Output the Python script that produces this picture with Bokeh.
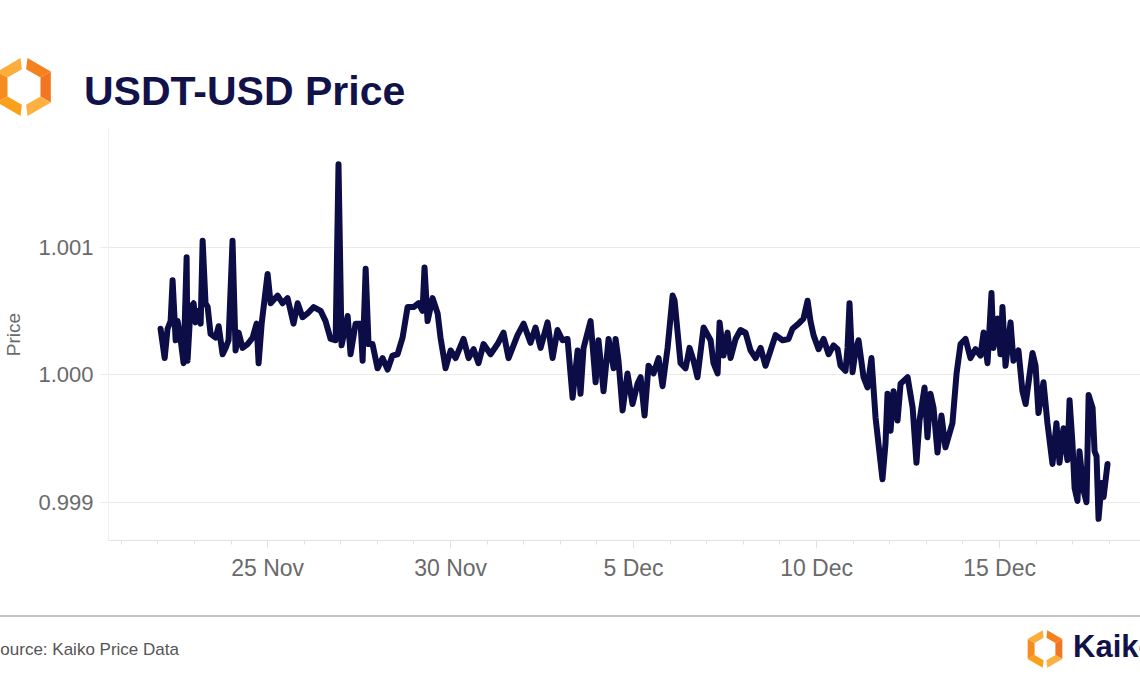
import numpy as np
import pandas as pd
from bokeh.plotting import figure
from bokeh.layouts import column
from bokeh.models import Range1d, FixedTicker, PrintfTickFormatter, Div
from bokeh.embed import file_html
from bokeh.resources import INLINE

# ---------------- data ----------------
start = pd.Timestamp("2022-11-22 00:00")

# hours since start
hours = [
    1.8, 4.5, 6.4, 8.4, 9.7, 11.7, 13.0, 15.0, 16.9, 18.9,
    19.5, 21.5, 23.5, 24.8, 26.7, 28.1, 29.4, 31.3, 32.7, 34.6,
    37.9, 39.9, 42.5, 44.5, 46.4, 49.0, 51.0, 53.0, 55.6, 58.9,
    62.2, 64.8, 66.1, 68.1, 72.0, 74.0, 78.6, 81.8, 85.1, 89.0,
    91.7, 94.9, 98.2, 102.2, 106.8, 110.0, 113.3, 116.6, 118.5, 120.5,
    124.5, 126.4, 129.7, 133.0, 134.3, 136.3, 138.2, 140.8, 144.1, 147.4,
    150.7, 153.9, 157.2, 160.5, 163.8, 167.7, 171.0, 173.6, 174.9, 176.9,
    180.2, 183.5, 185.4, 188.7, 192.0, 195.3, 200.5, 203.8, 207.1, 210.3,
    213.6, 218.2, 222.8,
    226.7, 230.0, 235.9, 239.9, 244.4, 247.7, 251.0, 255.6, 258.9, 262.1,
    265.4, 268.7, 272.0, 275.3, 277.2, 279.2, 283.8, 287.1, 289.0, 292.3,
    295.6, 298.9, 300.2, 302.1, 304.8, 308.0, 311.3, 314.6, 316.6, 319.2,
    321.8, 325.1, 328.4, 331.0, 334.3, 337.6, 338.9, 342.8, 346.1, 348.7,
    351.3, 353.9, 357.9, 362.5, 364.4, 367.1, 368.4, 371.0, 373.6, 375.6,
    378.9, 382.1, 385.4, 388.7, 392.0, 395.3, 398.5, 401.8, 405.1, 409.7,
    413.6, 416.2, 420.2, 423.4, 426.1, 428.0, 430.0, 433.3, 436.6, 439.9,
    443.1, 445.8, 447.7, 451.0, 452.3, 453.6, 455.6, 457.6, 459.5, 462.8,
    465.4, 468.0, 470.7,
    475.2, 477.2, 478.5, 480.5, 482.5, 485.1, 487.1, 491.7, 495.0, 497.5,
    499.5, 502.8, 504.7, 506.7, 508.7, 511.3, 513.9, 516.5, 521.1, 523.8,
    526.4, 529.7, 532.9, 536.2, 539.5, 541.5, 544.1, 546.7, 548.0, 550.6,
    552.6, 553.9, 555.9, 559.2, 561.1, 564.4, 567.0, 569.1, 573.6, 575.6,
    577.5, 580.8, 583.4, 586.7, 589.3, 591.3, 593.9, 596.5, 597.9, 599.8,
    601.2, 603.1, 604.4, 607.1, 609.0, 610.4, 613.0, 614.3, 615.6, 616.9,
    618.9, 620.2, 622.8,
]

price = [
    1.00036, 1.00013, 1.00036, 1.00042, 1.00074, 1.00027, 1.00042, 1.00027, 1.00009, 1.00092,
    1.00011, 1.00053, 1.00056, 1.00041, 1.00050, 1.00040, 1.00105, 1.00056, 1.00053, 1.00032,
    1.00029, 1.00038, 1.00016, 1.00021, 1.00027, 1.00105, 1.00019, 1.00033, 1.00021, 1.00024,
    1.00029, 1.00040, 1.00009, 1.00040, 1.00079, 1.00056, 1.00062, 1.00056, 1.00060, 1.00040,
    1.00056, 1.00045, 1.00048, 1.00053, 1.00050, 1.00042, 1.00028, 1.00027, 1.00165, 1.00023,
    1.00046, 1.00016, 1.00040, 1.00040, 1.00011, 1.00083, 1.00024, 1.00024, 1.00005, 1.00013,
    1.00004, 1.00015, 1.00016, 1.00029, 1.00053, 1.00053, 1.00056, 1.00050, 1.00084, 1.00042,
    1.00060, 1.00048, 1.00029, 1.00005, 1.00019, 1.00013, 1.00028, 1.00013, 1.00020, 1.00009,
    1.00024, 1.00016, 1.00024,
    1.00033, 1.00013, 1.00031, 1.00040, 1.00025, 1.00037, 1.00021, 1.00041, 1.00013, 1.00035,
    1.00027, 1.00028, 0.99982, 1.00019, 0.99985, 1.00021, 1.00042, 0.99994, 1.00027, 0.99987,
    1.00028, 1.00005, 1.00028, 1.00011, 0.99972, 1.00001, 0.99977, 0.99993, 0.99998, 0.99968,
    1.00007, 1.00001, 1.00013, 0.99991, 1.00021, 1.00062, 1.00058, 1.00009, 1.00005, 1.00021,
    1.00011, 0.99998, 1.00037, 1.00027, 1.00009, 1.00001, 1.00041, 1.00015, 1.00033, 1.00013,
    1.00028, 1.00035, 1.00033, 1.00019, 1.00013, 1.00021, 1.00007, 1.00019, 1.00031, 1.00027,
    1.00028, 1.00036, 1.00040, 1.00044, 1.00058, 1.00042, 1.00031, 1.00020, 1.00028, 1.00016,
    1.00023, 1.00020, 1.00007, 1.00003, 1.00021, 1.00056, 1.00002, 1.00019, 1.00027, 0.99998,
    0.99990, 1.00013, 0.99966,
    0.99918, 0.99946, 0.99985, 0.99956, 0.99987, 0.99964, 0.99993, 0.99998, 0.99974, 0.99931,
    0.99964, 0.99990, 0.99951, 0.99985, 0.99974, 0.99939, 0.99968, 0.99943, 0.99962, 1.00001,
    1.00024, 1.00028, 1.00013, 1.00020, 1.00015, 1.00033, 1.00009, 1.00064, 1.00021, 1.00044,
    1.00016, 1.00053, 1.00007, 1.00041, 1.00011, 1.00019, 0.99987, 0.99977, 1.00017, 1.00007,
    0.99970, 0.99994, 0.99962, 0.99930, 0.99962, 0.99931, 0.99958, 0.99933, 0.99980, 0.99946,
    0.99911, 0.99901, 0.99940, 0.99909, 0.99900, 0.99984, 0.99974, 0.99940, 0.99936, 0.99887,
    0.99915, 0.99904, 0.99930,
]

y_ticks = [0.999, 1.000, 1.001]
x_tick_dates = ["2022-11-25", "2022-11-30", "2022-12-05", "2022-12-10", "2022-12-15"]
x_tick_labels = ["25 Nov", "30 Nov", "5 Dec", "10 Dec", "15 Dec"]
title_text = "USDT-USD Price"
y_label = "Price"
source_text = "Source: Kaiko Price Data"
brand_text = "Kaiko"

# ---------------- styles ----------------
FONT = "Liberation Sans"
NAVY = "#12124a"
LINE = "#0c0c46"
GRAY_TXT = "#6a6a6a"
GRID = "#ebebeb"
W = 1140

times = start + pd.to_timedelta(hours, unit="h")


def hex_logo_svg(cx, cy, R, r, gap):
    """Two-piece hexagon ring logo (pointy top) as SVG polygons, y down."""
    angs = np.radians([90, 30, -30, -90, -150, 150])
    ox = cx + R * np.cos(angs); oy = cy - R * np.sin(angs)
    ix = cx + r * np.cos(angs); iy = cy - r * np.sin(angs)
    cols = ["#f5821f", "#f37421", "#fbb040", "#f9a11b", "#f68b1f", "#fbae3c"]
    parts = []
    for i in range(6):
        j = (i + 1) % 6
        t0, t1 = 0.0, 1.0
        if i in (0, 3):
            t0 = gap
        if i in (2, 5):
            t1 = 1 - gap
        pts = [(ox[i] + (ox[j] - ox[i]) * t0, oy[i] + (oy[j] - oy[i]) * t0),
               (ox[i] + (ox[j] - ox[i]) * t1, oy[i] + (oy[j] - oy[i]) * t1),
               (ix[i] + (ix[j] - ix[i]) * t1, iy[i] + (iy[j] - iy[i]) * t1),
               (ix[i] + (ix[j] - ix[i]) * t0, iy[i] + (iy[j] - iy[i]) * t0)]
        s = " ".join(f"{x:.1f},{y:.1f}" for x, y in pts)
        parts.append(f'<polygon points="{s}" fill="{cols[i]}"/>')
    return "".join(parts)


def text_svg(x, y, txt, size, color, bold=False):
    weight = "bold" if bold else "normal"
    return (f'<text x="{x}" y="{y}" font-family="{FONT}" font-size="{size}px" '
            f'font-weight="{weight}" fill="{color}">{txt}</text>')


# ---------------- header ----------------
HEAD_H = 125
head_svg = (f'<svg xmlns="http://www.w3.org/2000/svg" width="{W}" height="{HEAD_H}" '
            f'style="display:block;background:white">'
            + hex_logo_svg(24, 87, 31, 19, 0.13)
            + text_svg(84, 105, title_text, 41, NAVY, bold=True)
            + '</svg>')
head = Div(text=head_svg, width=W, height=HEAD_H, margin=0)

# ---------------- main chart ----------------
p = figure(width=W, height=485, x_axis_type="datetime", output_backend="svg",
           toolbar_location=None,
           x_range=Range1d(pd.Timestamp("2022-11-20 15:40"), pd.Timestamp("2022-12-18 20:25")),
           y_range=Range1d(0.99870, 1.00193),
           min_border_left=108, min_border_right=0, min_border_top=3, min_border_bottom=70,
           outline_line_color=None, background_fill_color="white", border_fill_color="white",
           margin=0)

p.line(times, price, line_width=6, line_color=LINE, line_join="round", line_cap="round")

# x axis
tick_ms = [float(pd.Timestamp(d).value // 10**6) for d in x_tick_dates]
minor_ms = [float(t.value // 10**6) for t in pd.date_range("2022-11-21", "2022-12-18", freq="D")]
p.xaxis.ticker = FixedTicker(ticks=tick_ms, minor_ticks=minor_ms)
p.xaxis.major_label_overrides = dict(zip(tick_ms, x_tick_labels))
p.xaxis.axis_line_color = "#e2e2e2"
p.xaxis.major_tick_line_color = "#e2e2e2"
p.xaxis.minor_tick_line_color = "#e2e2e2"
p.xaxis.major_tick_in = 0
p.xaxis.major_tick_out = 8
p.xaxis.minor_tick_in = 0
p.xaxis.minor_tick_out = 4
p.xaxis.major_label_standoff = 6
p.xaxis.major_label_text_font = FONT
p.xaxis.major_label_text_font_size = "23px"
p.xaxis.major_label_text_color = GRAY_TXT

# y axis
p.yaxis.ticker = FixedTicker(ticks=y_ticks, minor_ticks=[])
p.yaxis.formatter = PrintfTickFormatter(format="%.3f")
p.yaxis.axis_line_color = "#f0f0f0"
p.yaxis.major_tick_line_color = GRID
p.yaxis.major_tick_in = 0
p.yaxis.major_tick_out = 8
p.yaxis.minor_tick_line_color = None
p.yaxis.major_label_standoff = 7
p.yaxis.major_label_text_font = FONT
p.yaxis.major_label_text_font_size = "22px"
p.yaxis.major_label_text_color = GRAY_TXT
p.yaxis.axis_label = y_label
p.yaxis.axis_label_text_font = FONT
p.yaxis.axis_label_text_font_style = "normal"
p.yaxis.axis_label_text_font_size = "19px"
p.yaxis.axis_label_text_color = GRAY_TXT
p.yaxis.axis_label_standoff = 11

p.xgrid.visible = False
p.ygrid.grid_line_color = GRID
p.ygrid.grid_line_width = 1

# ---------------- footer ----------------
FOOT_H = 84
foot_svg = (f'<svg xmlns="http://www.w3.org/2000/svg" width="{W}" height="{FOOT_H}" '
            f'style="display:block;background:white">'
            f'<rect x="0" y="5" width="{W}" height="2" fill="#c4c4c4"/>'
            + text_svg(-11, 45, source_text, 17, "#555555")
            + hex_logo_svg(1045, 39, 20, 12, 0.13)
            + text_svg(1073, 47, brand_text, 31, NAVY, bold=True)
            + '</svg>')
foot = Div(text=foot_svg, width=W, height=FOOT_H, margin=0)

layout = column(head, p, foot, spacing=0)
open("out.html", "w").write(file_html(layout, INLINE))
